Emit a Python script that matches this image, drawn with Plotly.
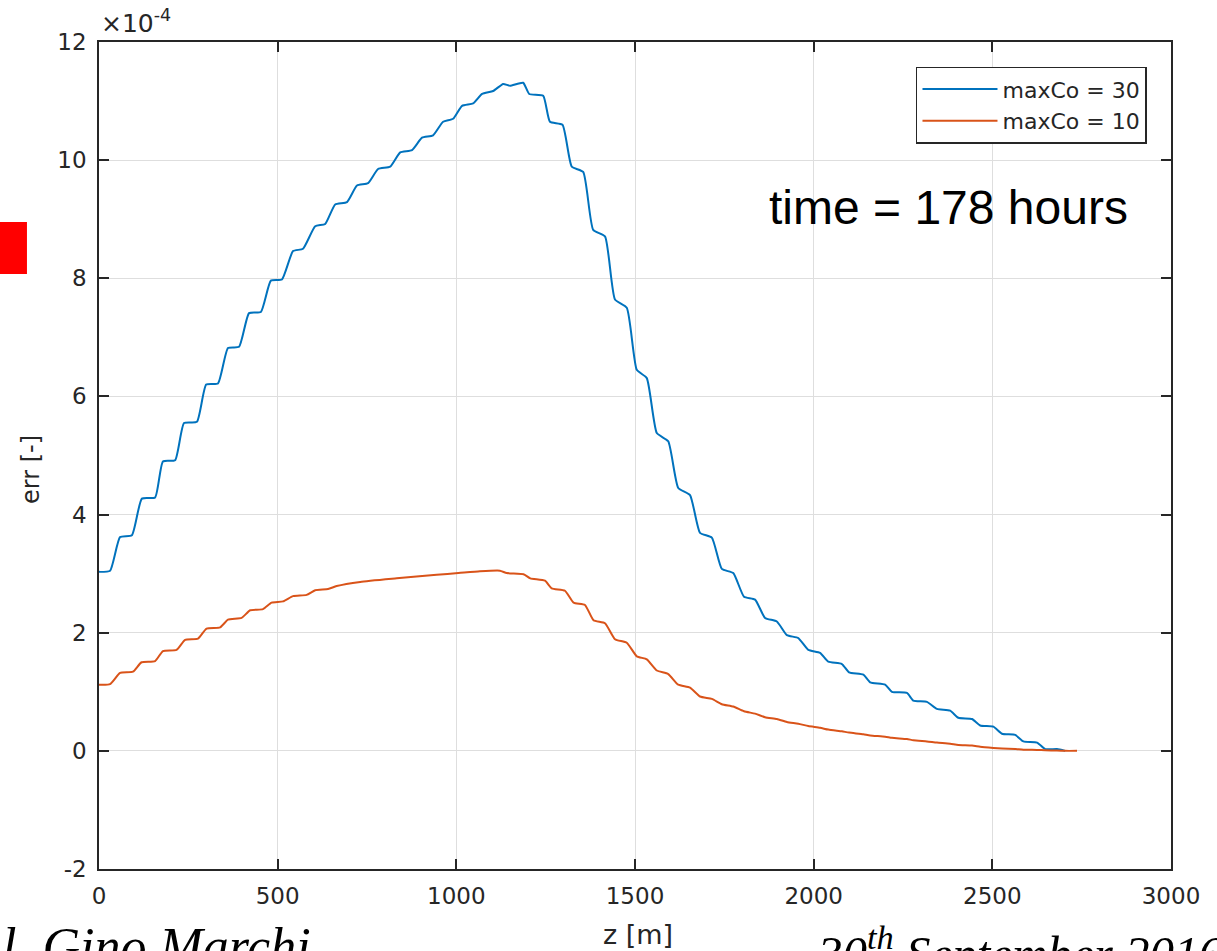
import plotly.graph_objects as go

# ---- data (err values in units of 1e-4) ----
z_blue = [0, 31, 59, 92, 120, 157, 179, 213, 238, 274, 300, 333, 361, 392, 420, 453,
          481, 512, 543, 571, 605, 633, 661, 694, 722, 753, 781, 815, 843, 876, 904, 935,
          963, 991, 1016, 1047, 1072, 1103, 1131, 1150, 1187, 1204, 1243, 1262, 1297,
          1323, 1355, 1383, 1416, 1444, 1477, 1505, 1533, 1561, 1593, 1621, 1654, 1682,
          1715, 1743, 1775, 1805, 1836, 1864, 1897, 1925, 1957, 1985, 2018, 2041, 2079,
          2099, 2139, 2158, 2200, 2219, 2261, 2279, 2317, 2345, 2382, 2405, 2443, 2466,
          2503, 2527, 2564, 2587, 2625, 2648, 2681, 2704]
err_blue = [3.03, 3.05, 3.62, 3.65, 4.27, 4.29, 4.90, 4.92, 5.55, 5.57, 6.20, 6.22, 6.82,
            6.84, 7.41, 7.43, 7.96, 7.98, 8.46, 8.50, 8.88, 8.92, 9.25, 9.29, 9.57, 9.61,
            9.85, 9.89, 10.13, 10.17, 10.38, 10.42, 10.65, 10.70, 10.92, 10.96, 11.12,
            11.17, 11.29, 11.26, 11.31, 11.12, 11.09, 10.65, 10.60, 9.89, 9.80, 8.82, 8.71,
            7.64, 7.50, 6.45, 6.31, 5.38, 5.24, 4.45, 4.33, 3.69, 3.61, 3.08, 3.01, 2.61,
            2.56, 2.25, 2.19, 1.96, 1.91, 1.71, 1.66, 1.51, 1.47, 1.33, 1.29, 1.16, 1.12,
            1.00, 0.98, 0.85, 0.83, 0.71, 0.68, 0.56, 0.54, 0.43, 0.41, 0.29, 0.27, 0.16,
            0.14, 0.03, 0.03, 0.0]

z_orange = [0, 31, 59, 95, 119, 157, 179, 217, 241, 277, 301, 339, 361, 399, 423, 459,
            483, 515, 543, 581, 605, 641, 665, 731, 833, 945, 1006, 1066, 1122, 1141, 1188,
            1207, 1248, 1267, 1304, 1328, 1360, 1384, 1416, 1444, 1477, 1505, 1533, 1561,
            1593, 1621, 1654, 1682, 1715, 1743, 1775, 1805, 1836, 1864, 1897, 1925, 1957,
            1985, 2018, 2041, 2079, 2099, 2139, 2158, 2200, 2219, 2261, 2279, 2317, 2345,
            2382, 2405, 2443, 2466, 2503, 2527, 2564, 2587, 2625, 2648, 2681, 2704, 2737]
err_orange = [1.12, 1.13, 1.32, 1.34, 1.50, 1.52, 1.69, 1.71, 1.88, 1.90, 2.07, 2.09, 2.22,
              2.25, 2.38, 2.40, 2.51, 2.53, 2.62, 2.64, 2.72, 2.74, 2.79, 2.86, 2.92, 2.98,
              3.01, 3.04, 3.05, 3.01, 2.99, 2.92, 2.88, 2.75, 2.71, 2.51, 2.47, 2.21, 2.16,
              1.89, 1.83, 1.60, 1.55, 1.36, 1.30, 1.12, 1.07, 0.92, 0.88, 0.79, 0.75, 0.67,
              0.63, 0.57, 0.54, 0.49, 0.46, 0.42, 0.39, 0.36, 0.33, 0.31, 0.28, 0.26, 0.24,
              0.22, 0.20, 0.18, 0.16, 0.14, 0.12, 0.10, 0.09, 0.07, 0.05, 0.04, 0.03, 0.02,
              0.015, 0.01, 0.005, 0.0, 0.0]

series_names = ["maxCo = 30", "maxCo = 10"]
x_ticks = [0, 500, 1000, 1500, 2000, 2500, 3000]
y_ticks = [-2, 0, 2, 4, 6, 8, 10, 12]
scale = 1e-4

BLUE = "#0072BD"
ORANGE = "#D95319"
AX = "#262626"
FONT = "DejaVu Sans"

fig = go.Figure()
fig.add_trace(go.Scatter(x=z_blue, y=[v * scale for v in err_blue], mode="lines",
                         name=series_names[0],
                         line=dict(color=BLUE, width=2, shape="spline", smoothing=0.5)))
fig.add_trace(go.Scatter(x=z_orange, y=[v * scale for v in err_orange], mode="lines",
                         name=series_names[1],
                         line=dict(color=ORANGE, width=2, shape="spline", smoothing=0.5)))

axis_common = dict(showline=True, linecolor=AX, linewidth=1.5, mirror="ticks",
                   ticks="inside", ticklen=10, tickwidth=1.5, tickcolor=AX,
                   showgrid=True, gridcolor="#dedede", gridwidth=1, zeroline=False,
                   automargin=False,
                   tickfont=dict(family=FONT, size=23, color=AX))

fig.update_xaxes(range=[0, 3000], tickvals=x_ticks, ticktext=[str(t) for t in x_ticks],
                 ticklabelstandoff=6, **axis_common)
fig.update_yaxes(range=[-2 * scale, 12 * scale], tickvals=[t * scale for t in y_ticks],
                 ticktext=[str(t) for t in y_ticks], ticklabelstandoff=6, **axis_common)

fig.update_layout(
    width=1217, height=951,
    margin=dict(l=99, r=46, t=42, b=82, autoexpand=False),
    paper_bgcolor="white", plot_bgcolor="white",
    legend=dict(x=0.9776, y=0.97, xanchor="right", yanchor="top",
                bgcolor="white", bordercolor=AX, borderwidth=1.5, itemwidth=75,
                font=dict(family=FONT, size=22, color=AX), tracegroupgap=0),
    annotations=[
        dict(text="×10<sup>-4</sup>", xref="paper", yref="paper", x=0, y=1,
             xanchor="left", yanchor="bottom", xshift=0, yshift=2, showarrow=False,
             font=dict(family=FONT, size=25, color=AX)),
        dict(text="time = 178 hours", xref="paper", yref="paper", x=0.962, y=0.80,
             xanchor="right", yanchor="middle", showarrow=False,
             font=dict(family="Liberation Sans", size=48, color="black")),
        dict(text="z [m]", xref="paper", yref="paper", x=0.5028, y=-0.0798,
             xanchor="center", yanchor="middle", showarrow=False,
             font=dict(family=FONT, size=27, color=AX)),
        dict(text="err [-]", xref="paper", yref="paper", x=-0.0634, y=0.4825,
             xanchor="center", yanchor="middle", textangle=-90, showarrow=False,
             font=dict(family=FONT, size=24, color=AX)),
        dict(text="l. Gino Marchi", xref="paper", yref="paper", x=-0.092, y=-0.057,
             xanchor="left", yanchor="top", showarrow=False,
             font=dict(family="Liberation Serif", size=52, color="black", style="italic")),
        dict(text="30<sup>th</sup> September 2016", xref="paper", yref="paper",
             x=0.668, y=-0.057, xanchor="left", yanchor="top", showarrow=False,
             font=dict(family="Liberation Serif", size=49, color="black", style="italic")),
    ],
    shapes=[
        dict(type="rect", xref="paper", yref="paper", x0=-0.0924, x1=-0.0672,
             y0=0.7195, y1=0.7823, fillcolor="#ff0000", line=dict(width=0)),
    ],
)

fig.write_html("out.html", config={"displayModeBar": False},
               post_script="document.body.style.margin='0';")
